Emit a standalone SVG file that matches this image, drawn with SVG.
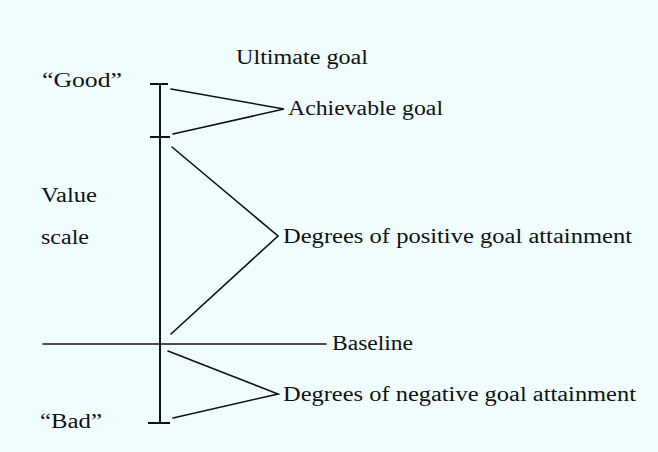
<svg xmlns="http://www.w3.org/2000/svg" width="658" height="452" viewBox="0 0 658 452">
<style>
text{font-family:"Liberation Serif","Times New Roman",serif;font-size:20px;fill:#111}
.ln{stroke:#111;stroke-width:1.6;fill:none;stroke-linecap:round}
.ax{stroke:#111;stroke-width:2;fill:none}
</style>
<rect width="658" height="452" fill="#effefd"/>
<g id="labels">
<text x="236" y="64" textLength="132" lengthAdjust="spacingAndGlyphs">Ultimate goal</text>
<text x="42" y="87" textLength="80" lengthAdjust="spacingAndGlyphs">“Good”</text>
<text x="41" y="202" textLength="56" lengthAdjust="spacingAndGlyphs">Value</text>
<text x="41" y="244" textLength="48" lengthAdjust="spacingAndGlyphs">scale</text>
<text x="40" y="428" textLength="62" lengthAdjust="spacingAndGlyphs">“Bad”</text>
</g>
<g id="axis">
<line class="ax" x1="160" y1="84" x2="160" y2="423"/>
<line class="ax" x1="150" y1="84" x2="168" y2="84"/>
<line class="ax" x1="150" y1="137" x2="170" y2="137"/>
<line class="ax" x1="148" y1="423" x2="170" y2="423"/>
</g>
<g id="baseline">
<line class="ln" x1="43" y1="344" x2="326" y2="344"/>
<text x="332" y="350" textLength="81" lengthAdjust="spacingAndGlyphs">Baseline</text>
</g>
<g id="achievable">
<text x="288" y="115" textLength="155" lengthAdjust="spacingAndGlyphs">Achievable goal</text>
</g>
<g id="positive">
<text x="283" y="243" textLength="349" lengthAdjust="spacingAndGlyphs">Degrees of positive goal attainment</text>
</g>
<g id="negative">
<text x="283" y="401" textLength="353" lengthAdjust="spacingAndGlyphs">Degrees of negative goal attainment</text>
</g>
<g id="connectors">
<polyline class="ln" points="171,89 284,109 173,134"/>
<polyline class="ln" points="172,147 278,236 171,334"/>
<polyline class="ln" points="168,351 278,394 173,418"/>
</g>
</svg>
